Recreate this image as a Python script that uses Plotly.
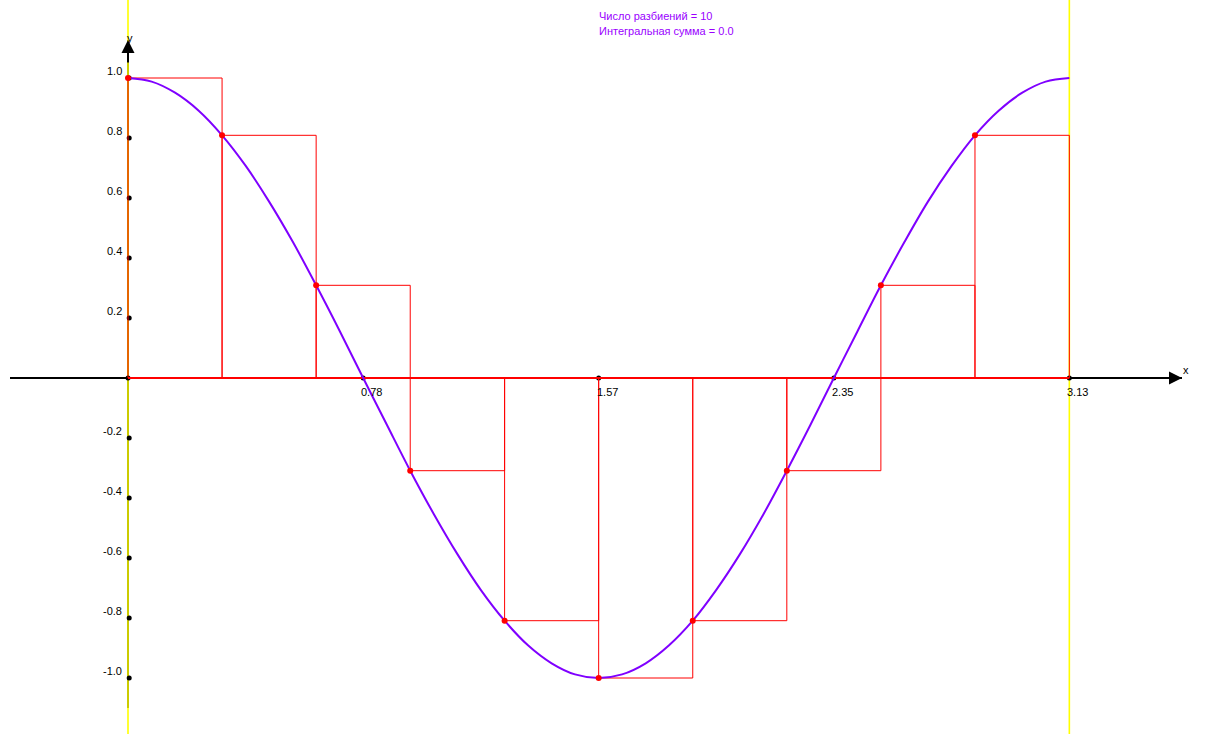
import plotly.graph_objects as go

# ---- data ----
curve_x = [0, 0.079, 0.157, 0.236, 0.314, 0.393, 0.471, 0.550, 0.628, 0.707,
           0.785, 0.864, 0.942, 1.021, 1.100, 1.178, 1.257, 1.335, 1.414, 1.492,
           1.571, 1.649, 1.728, 1.806, 1.885, 1.963, 2.042, 2.121, 2.199, 2.278,
           2.356, 2.435, 2.513, 2.592, 2.670, 2.749, 2.827, 2.906, 2.985, 3.063, 3.142]
curve_y = [1.0, 0.988, 0.951, 0.891, 0.809, 0.707, 0.588, 0.454, 0.309, 0.156,
           0.0, -0.156, -0.309, -0.454, -0.588, -0.707, -0.809, -0.891, -0.951, -0.988,
           -1.0, -0.988, -0.951, -0.891, -0.809, -0.707, -0.588, -0.454, -0.309, -0.156,
           0.0, 0.156, 0.309, 0.454, 0.588, 0.707, 0.809, 0.891, 0.951, 0.988, 1.0]

part_edges = [0, 0.314, 0.628, 0.942, 1.257, 1.571, 1.885, 2.199, 2.513, 2.827, 3.142]
rect_heights = [1.0, 0.809, 0.309, -0.309, -0.809, -1.0, -0.809, -0.309, 0.309, 0.809]

x_tick_vals = [0, 0.785, 1.571, 2.356, 3.142]
x_tick_text = ["", "0.78", "1.57", "2.35", "3.13"]
y_tick_vals = [1.0, 0.8, 0.6, 0.4, 0.2, -0.2, -0.4, -0.6, -0.8, -1.0]
y_tick_text = ["1.0", "0.8", "0.6", "0.4", "0.2", "-0.2", "-0.4", "-0.6", "-0.8", "-1.0"]

info_lines = ["Число разбиений = 10", "Интегральная сумма = 0.0"]

# ---- pixel geometry ----
W, H = 1217, 734
X0_PX, Y0_PX = 128, 378
SX, SY = 299.6, 300.0
x_range = [-X0_PX / SX, (W - X0_PX) / SX]
y_range = [-(H - Y0_PX) / SY, Y0_PX / SY]
x_axis_left = (10 - X0_PX) / SX
x_axis_right = (1182 - X0_PX) / SX
y_axis_top = (Y0_PX - 40) / SY
y_axis_bottom = (Y0_PX - 708) / SY

FONT = "Liberation Sans, Arial, sans-serif"

fig = go.Figure()

# black axes
fig.add_trace(go.Scatter(x=[x_axis_left, x_axis_right], y=[0, 0], mode="lines",
                         line=dict(color="black", width=2), hoverinfo="skip"))
fig.add_trace(go.Scatter(x=[0, 0], y=[y_axis_bottom, y_axis_top], mode="lines",
                         line=dict(color="black", width=2), hoverinfo="skip"))

# yellow boundary lines
a, b = part_edges[0], part_edges[-1]
fig.add_trace(go.Scatter(x=[a, a, None, b, b], y=[y_range[0], y_range[1], None, y_range[0], y_range[1]],
                         mode="lines", line=dict(color="#ffff00", width=1.6), hoverinfo="skip"))

# tick dots
fig.add_trace(go.Scatter(x=x_tick_vals, y=[0] * len(x_tick_vals), mode="markers",
                         marker=dict(color="black", size=5), hoverinfo="skip"))
fig.add_trace(go.Scatter(x=[0.004] * len(y_tick_vals), y=y_tick_vals, mode="markers",
                         marker=dict(color="black", size=5), hoverinfo="skip"))

# rectangles
rx, ry = [], []
for i, h in enumerate(rect_heights):
    x0, x1 = part_edges[i], part_edges[i + 1]
    rx += [x0, x0, x1, x1, None]
    ry += [0, h, h, 0, None]
fig.add_trace(go.Scatter(x=rx, y=ry, mode="lines", line=dict(color="#ff0000", width=1),
                         hoverinfo="skip"))
# red base line along the axis
fig.add_trace(go.Scatter(x=[a, b], y=[0, 0], mode="lines", line=dict(color="#ff0000", width=2),
                         hoverinfo="skip"))

# curve
fig.add_trace(go.Scatter(x=curve_x, y=curve_y, mode="lines",
                         line=dict(color="#7f00ff", width=2, shape="spline"), hoverinfo="skip"))

# red points
fig.add_trace(go.Scatter(x=part_edges[:-1], y=rect_heights, mode="markers",
                         marker=dict(color="#ff0000", size=6), hoverinfo="skip"))

ann = []
for v, t in zip(x_tick_vals, x_tick_text):
    if t:
        ann.append(dict(x=v, y=0, text=t, showarrow=False, xanchor="left", yanchor="top",
                        xshift=-4, yshift=-6, font=dict(family=FONT, size=11, color="black")))
for v, t in zip(y_tick_vals, y_tick_text):
    ann.append(dict(x=0, y=v, text=t, showarrow=False, xanchor="right", yanchor="middle",
                    xshift=-4, yshift=7, font=dict(family=FONT, size=11, color="black")))
# arrowheads
ann.append(dict(x=x_axis_right, y=0, ax=x_axis_right - 0.08, ay=0, axref="x", ayref="y",
                xref="x", yref="y", text="", showarrow=True, arrowhead=2, arrowsize=1.3,
                arrowwidth=2, arrowcolor="black"))
ann.append(dict(x=0, y=y_axis_top, ax=0, ay=y_axis_top - 0.08, axref="x", ayref="y",
                xref="x", yref="y", text="", showarrow=True, arrowhead=2, arrowsize=1.3,
                arrowwidth=2, arrowcolor="black"))
ann.append(dict(x=x_axis_right, y=0, text="x", showarrow=False, xanchor="left", yanchor="bottom",
                xshift=-1, yshift=0, font=dict(family=FONT, size=11, color="black")))
ann.append(dict(x=0, y=y_axis_top, text="y", showarrow=False, xanchor="center", yanchor="bottom",
                xshift=2, yshift=-6, font=dict(family=FONT, size=11, color="black")))
for i, line in enumerate(info_lines):
    ann.append(dict(xref="paper", yref="paper", x=597 / W, y=1 - (16 + 15 * i) / H, text=line,
                    showarrow=False, xanchor="left", yanchor="middle",
                    font=dict(family=FONT, size=11, color="#9a00ff")))

fig.update_layout(
    width=W, height=H, margin=dict(l=0, r=0, t=0, b=0),
    paper_bgcolor="white", plot_bgcolor="white", showlegend=False,
    xaxis=dict(range=x_range, visible=False, fixedrange=True),
    yaxis=dict(range=y_range, visible=False, fixedrange=True),
    annotations=ann,
)

fig.write_html("out.html", config={"displayModeBar": False},
               post_script="document.body.style.margin='0';document.body.style.overflow='hidden';")
